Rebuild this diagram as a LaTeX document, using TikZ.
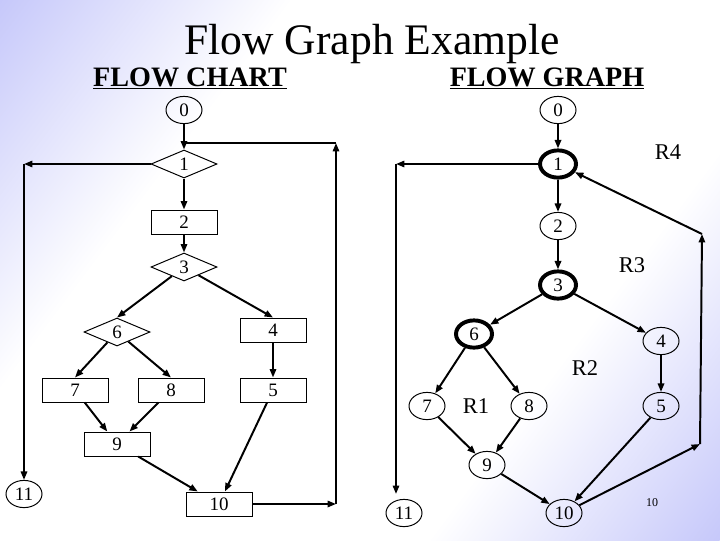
\documentclass[tikz,border=0pt]{standalone}
\usepackage{fontspec}
\setmainfont{Liberation Serif}
\usetikzlibrary{shapes.geometric,arrows.meta}

\definecolor{slidelav}{RGB}{198,200,250}
\pgfdeclarehorizontalshading{slidebg}{100bp}{color(0bp)=(slidelav); color(25bp)=(slidelav);
  color(38bp)=(white); color(62bp)=(white); color(75bp)=(slidelav); color(100bp)=(slidelav)}

\tikzset{
  box/.style={draw, rectangle, minimum width=1.65cm, minimum height=0.6cm,
    inner sep=0pt, line width=0.7pt, font=\fontsize{13.5}{15}\selectfont},
  decision/.style={draw, diamond, minimum width=1.65cm, minimum height=0.7cm,
    inner sep=0pt, line width=0.7pt, font=\fontsize{13.5}{15}\selectfont},
  vertex/.style={draw, ellipse, minimum width=0.9cm, minimum height=0.68cm,
    inner sep=0pt, line width=0.7pt, font=\fontsize{13.5}{15}\selectfont},
  bigvertex/.style={vertex, line width=2.8pt, minimum width=0.9cm, minimum height=0.68cm},
  flow/.style={line width=1.4pt, -{Triangle[length=6pt,width=4.5pt]}},
  link/.style={line width=1.4pt},
  region/.style={font=\fontsize{16}{18}\selectfont},
  heading/.style={anchor=base, font=\fontsize{20}{22}\selectfont\bfseries},
}

\begin{document}
\begin{tikzpicture}[x=0.025cm, y=-0.025cm]
  % background
  \useasboundingbox (0,0) rectangle (720,540);
  \begin{scope}
    \clip (0,0) rectangle (720,540);
    \fill[white] (0,0) rectangle (720,540);
    \begin{scope}[transform canvas={rotate around={-36.87:(360,270)}}]
      \shade[shading=slidebg] (-90,-180) rectangle (810,720);
    \end{scope}
  \end{scope}

  % Titles
  \node[anchor=base, font=\fontsize{31}{33}\selectfont] (title) at (372,54) {Flow Graph Example};
  \node[heading] (charthead) at (190,86) {\underline{FLOW CHART}};
  \node[heading] (graphhead) at (547,86) {\underline{FLOW GRAPH}};

  % Flow chart
  \node[vertex] (c0) at (184,110) {0};
  \node[decision] (c1) at (184,164) {1};
  \node[box] (c2) at (184,222) {2};
  \node[decision] (c3) at (184,267) {3};
  \node[decision] (c6) at (117,332) {6};
  \node[box] (c4) at (273,330) {4};
  \node[box] (c7) at (75,390) {7};
  \node[box] (c8) at (171,390) {8};
  \node[box] (c5) at (273,390) {5};
  \node[box] (c9) at (117,444) {9};
  \node[box] (c10) at (219,504) {10};
  \node[vertex] (c11) at (24,494) {11};

  \coordinate (cl) at (24,164);
  \coordinate (cr) at (336,143);
  \coordinate (cb) at (336,504);
  \coordinate (cj) at (184,143);

  \draw[flow] (c0) -- (c1);
  \draw[flow] (c1) -- (c2);
  \draw[flow] (c2) -- (c3);
  \draw[flow] (c3) -- (c6.north);
  \draw[flow] (c3) -- (c4.north);
  \draw[flow] (c6) -- (c7.north);
  \draw[flow] (c6) -- (c8.north);
  \draw[flow] (c4) -- (c5);
  \draw[flow] (c7) -- (c9);
  \draw[flow] (c8) -- (c9);
  \draw[flow] (c9) -- (c10);
  \draw[flow] (c5) -- (c10);
  % loops
  \draw[flow] (c1) -- (cl);
  \draw[flow] (cl) -- (c11);
  \draw[flow] (c10) -- (cb);
  \draw[flow] (cb) -- (cr);
  \draw[link] (cr) -- (cj);

  % Flow graph
  \node[vertex] (g0) at (558,110) {0};
  \node[bigvertex] (g1) at (558,164) {1};
  \node[vertex] (g2) at (558,226) {2};
  \node[bigvertex] (g3) at (558,285) {3};
  \node[bigvertex] (g6) at (474,334) {6};
  \node[vertex] (g4) at (661,341) {4};
  \node[vertex] (g7) at (427,406) {7};
  \node[vertex] (g8) at (529,406) {8};
  \node[vertex] (g5) at (661,406) {5};
  \node[vertex] (g9) at (487,465) {9};
  \node[vertex] (g10) at (564,513) {10};
  \node[vertex] (g11) at (404,513) {11};

  \coordinate (gl) at (396,164);
  \coordinate (gd) at (396,494);
  \coordinate (gr) at (700,444);
  \coordinate (gt) at (702,234);

  \draw[flow] (g0) -- (g1);
  \draw[flow] (g1) -- (g2);
  \draw[flow] (g2) -- (g3);
  \draw[flow] (g3) -- (g6);
  \draw[flow] (g3) -- (g4);
  \draw[flow] (g6) -- (g7);
  \draw[flow] (g6) -- (g8);
  \draw[flow] (g4) -- (g5);
  \draw[flow] (g7) -- (g9);
  \draw[flow] (g8) -- (g9);
  \draw[flow] (g9) -- (g10);
  \draw[flow] (g5) -- (g10);
  % loops
  \draw[flow] (g1) -- (gl);
  \draw[flow] (gl) -- (gd);
  \draw[flow] (g10) -- (gr);
  \draw[flow] (gr) -- (gt);
  \draw[flow] (gt) -- (g1);

  % Regions
  \node[region] (r4) at (668,152) {R4};
  \node[region] (r3) at (632,265) {R3};
  \node[region] (r2) at (585,368) {R2};
  \node[region] (r1) at (476,406) {R1};
  \node[font=\fontsize{8.5}{10}\selectfont] (count) at (652,503) {10};
\end{tikzpicture}
\end{document}
